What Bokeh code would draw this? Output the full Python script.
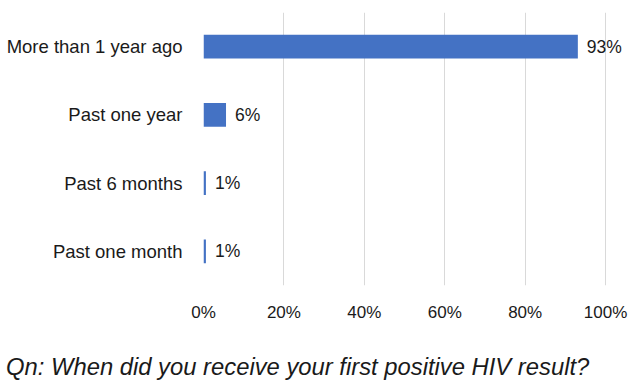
from bokeh.plotting import figure
from bokeh.models import ColumnDataSource, LabelSet, FixedTicker, Div
from bokeh.layouts import column
from bokeh.core.properties import value
from bokeh.embed import file_html
from bokeh.resources import INLINE

categories = ["Past one month", "Past 6 months", "Past one year", "More than 1 year ago"]
values = [0.6, 0.6, 5.6, 93.1]
labels = ["1%", "1%", "6%", "93%"]
ticks = [0, 20, 40, 60, 80, 100]
tick_labels = {0: "0%", 20: "20%", 40: "40%", 60: "60%", 80: "80%", 100: "100%"}
caption = "Qn: When did you receive your first positive HIV result?"

FONT = "Liberation Sans"
TXT = "#1a1a1a"
src = ColumnDataSource(dict(cat=categories, val=values, lab=labels))

p = figure(width=630, height=330, y_range=categories, x_range=(0, 105.2),
           output_backend="svg", toolbar_location=None,
           min_border_left=203, min_border_right=4, min_border_top=12,
           min_border_bottom=45)
p.outline_line_color = None
p.hbar(y="cat", right="val", height=0.35, left=0, source=src,
       fill_color="#4472C4", line_color=None)

lbl = LabelSet(x="val", y="cat", text="lab", source=src, x_offset=9,
               text_baseline="middle", text_font=value(FONT),
               text_font_size="17.5px", text_color=TXT)
p.add_layout(lbl)

p.xaxis.ticker = FixedTicker(ticks=ticks)
p.xaxis.major_label_overrides = tick_labels
p.xaxis.axis_line_color = None
p.xaxis.major_tick_line_color = None
p.xaxis.minor_tick_line_color = None
p.xaxis.major_label_standoff = 11
p.xaxis.major_label_text_font = FONT
p.xaxis.major_label_text_font_size = "17px"
p.xaxis.major_label_text_color = TXT

p.yaxis.axis_line_color = None
p.yaxis.major_tick_line_color = None
p.yaxis.minor_tick_line_color = None
p.yaxis.major_label_standoff = 15
p.yaxis.major_label_text_font = FONT
p.yaxis.major_label_text_font_size = "18.5px"
p.yaxis.major_label_text_color = TXT

p.ygrid.grid_line_color = None
p.xgrid.grid_line_color = "#D9D9D9"
p.xgrid.grid_line_width = 1

cap = Div(text=caption, width=630, height=54, margin=(0, 0, 0, 0),
          styles={"font-family": FONT, "font-style": "italic",
                  "font-size": "23.8px", "line-height": "28px",
                  "color": TXT, "padding-top": "23px", "padding-left": "6px",
                  "white-space": "nowrap"})

layout = column(p, cap, spacing=0)
open("out.html", "w").write(file_html(layout, INLINE))
